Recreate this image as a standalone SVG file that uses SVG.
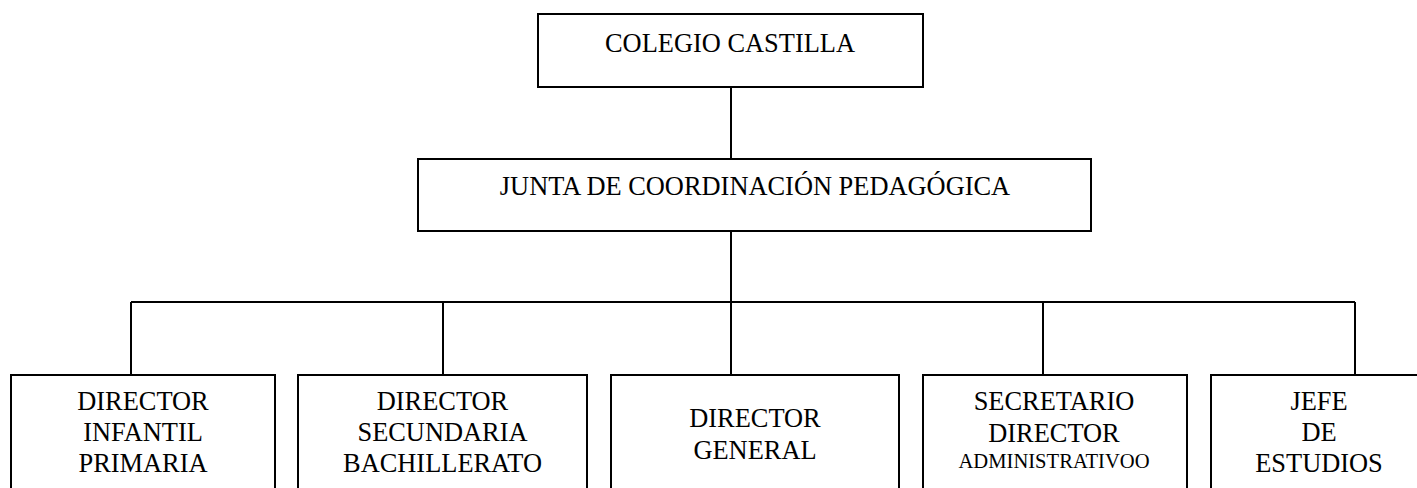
<svg xmlns="http://www.w3.org/2000/svg" width="1417" height="488" viewBox="0 0 1417 488">
<style>
.box{fill:#fff;stroke:#000;stroke-width:2}
.ln{fill:none;stroke:#000;stroke-width:2}
.t{font-family:'Liberation Serif','Times New Roman',Tinos,'DejaVu Serif',serif;font-size:26.4px;fill:#000;text-anchor:middle}
.sm{font-size:20.6px}
</style>
<rect width="1417" height="488" fill="#fff"/>
<g id="connectors">
<path class="ln" d="M731 87V159M731 231V302M131 302H1355M131 302V375M443 302V375M731 302V375M1043 302V375M1355 302V375"/>
</g>
<g id="n-colegio">
<rect class="box" x="538" y="14" width="385" height="73"/>
<text class="t" x="730" y="52">COLEGIO CASTILLA</text>
</g>
<g id="n-junta">
<rect class="box" x="418" y="159" width="673" height="72"/>
<text class="t" x="755" y="195">JUNTA DE COORDINACIÓN PEDAGÓGICA</text>
</g>
<g id="n-infantil">
<rect class="box" x="11" y="375" width="264" height="130"/>
<text class="t" x="143" y="410">DIRECTOR</text>
<text class="t" x="143" y="441">INFANTIL</text>
<text class="t" x="143" y="472">PRIMARIA</text>
</g>
<g id="n-secundaria">
<rect class="box" x="298" y="375" width="289" height="130"/>
<text class="t" x="442.5" y="410">DIRECTOR</text>
<text class="t" x="442.5" y="441">SECUNDARIA</text>
<text class="t" x="442.5" y="472">BACHILLERATO</text>
</g>
<g id="n-general">
<rect class="box" x="611" y="375" width="288" height="130"/>
<text class="t" x="755" y="427">DIRECTOR</text>
<text class="t" x="755" y="459">GENERAL</text>
</g>
<g id="n-secretario">
<rect class="box" x="923" y="375" width="264" height="130"/>
<text class="t" x="1054" y="410">SECRETARIO</text>
<text class="t" x="1054" y="442">DIRECTOR</text>
<text class="t sm" x="1054" y="468">ADMINISTRATIVOO</text>
</g>
<g id="n-jefe">
<rect class="box" x="1211" y="375" width="230" height="130"/>
<text class="t" x="1319" y="410">JEFE</text>
<text class="t" x="1319" y="441">DE</text>
<text class="t" x="1319" y="472">ESTUDIOS</text>
</g>
</svg>
